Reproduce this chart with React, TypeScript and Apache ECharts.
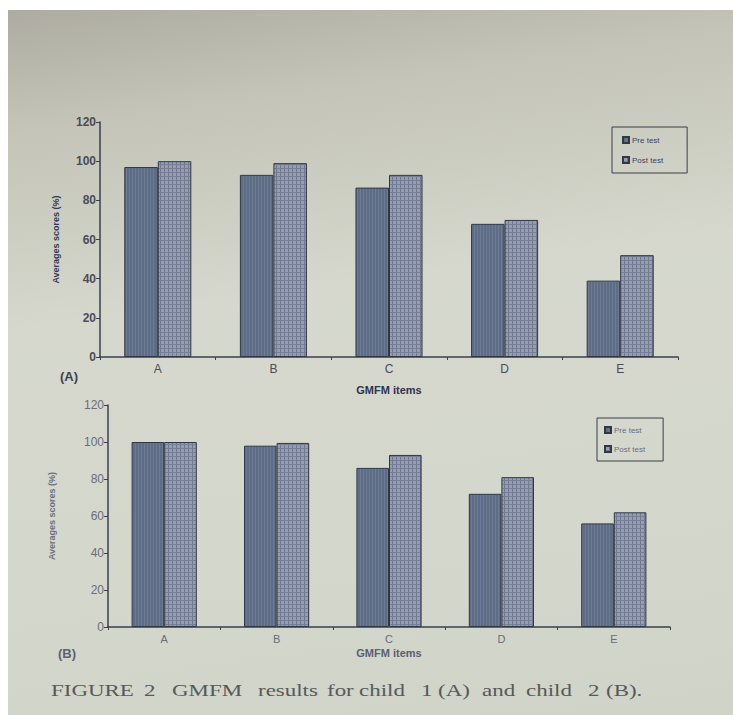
import React, { useEffect, useRef } from "react";
import * as echarts from "echarts";

const categories = ["A", "B", "C", "D", "E"];
const child1Pre = [97, 93, 86.5, 68, 39];
const child1Post = [100, 99, 93, 70, 52];
const child2Pre = [100, 98, 86, 72, 56];
const child2Post = [100, 99.5, 93, 81, 62];
const seriesNames = ["Pre test", "Post test"];
const yMin = 0;
const yMax = 120;
const yStep = 20;
const xAxisTitle = "GMFM items";
const yAxisTitle = "Averages scores (%)";
const panelLabels = ["(A)", "(B)"];
const captionWords: [string, number][] = [
  ["FIGURE", 51],
  ["2", 144],
  ["GMFM", 172],
  ["results", 258],
  ["for", 327],
  ["child", 359],
  ["1", 421],
  ["(A)", 438],
  ["and", 482],
  ["child", 526],
  ["2", 588],
  ["(B).", 606],
];

function makePattern(base: string, vLine: string, hLine: string | null, step: number) {
  const c = document.createElement("canvas");
  c.width = step;
  c.height = step;
  const ctx = c.getContext("2d")!;
  ctx.fillStyle = base;
  ctx.fillRect(0, 0, step, step);
  ctx.fillStyle = vLine;
  ctx.fillRect(0, 0, 1, step);
  if (hLine) {
    ctx.fillStyle = hLine;
    ctx.fillRect(0, 0, step, 1);
  }
  return { image: c.toDataURL(), repeat: "repeat", imageWidth: step, imageHeight: step };
}

export default function App() {
  const ref = useRef<HTMLDivElement>(null);
  useEffect(() => {
    if (!ref.current) return;
    const chart = echarts.init(ref.current, null, { renderer: "svg" });
    const prePattern = makePattern("#5e6d86", "#6c7b93", null, 3);
    const postPattern = makePattern("#979db0", "#707990", "#767f95", 4);
    const grids = [
      { left: 100, right: 55, top: 122, height: 235 },
      { left: 108, right: 63, top: 405, height: 222 },
    ];
    const xAxes = grids.map((_, i) => ({
      type: "category",
      gridIndex: i,
      data: categories,
      name: xAxisTitle,
      nameLocation: "middle",
      nameGap: i === 0 ? 27 : 20,
      nameTextStyle: {
        fontFamily: "Liberation Sans",
        fontWeight: "bold",
        fontSize: 11,
        color: i === 0 ? "#2c3352" : "#5a6070",
      },
      axisLine: { lineStyle: { color: "#39404c", width: 1.5 } },
      axisTick: { show: true, length: 3, lineStyle: { color: "#39404c" } },
      axisLabel: {
        fontFamily: "Liberation Sans",
        fontSize: i === 0 ? 12 : 11,
        color: i === 0 ? "#4a4d58" : "#6a6d78",
        margin: 6,
      },
    }));
    const yAxes = grids.map((_, i) => ({
      type: "value",
      gridIndex: i,
      min: yMin,
      max: yMax,
      interval: yStep,
      name: yAxisTitle,
      nameLocation: "middle",
      nameGap: i === 0 ? 40 : 52,
      nameTextStyle: {
        fontFamily: "Liberation Sans",
        fontWeight: "bold",
        fontSize: 9,
        color: i === 0 ? "#2f3a5a" : "#6a7080",
      },
      splitLine: { show: false },
      axisLine: { show: true, lineStyle: { color: "#39404c", width: 1.5 } },
      axisTick: { show: true, length: 4, lineStyle: { color: "#39404c" } },
      axisLabel: {
        fontFamily: "Liberation Sans",
        fontSize: 12,
        fontWeight: i === 0 ? "bold" : "normal",
        color: i === 0 ? "#4a4d58" : "#6a6d78",
        margin: 4,
      },
    }));
    const barStyle = (pattern: any) => ({
      color: pattern,
      borderColor: "#2e3847",
      borderWidth: 1,
    });
    const seriesData = [
      [child1Pre, child1Post],
      [child2Pre, child2Post],
    ];
    const series: any[] = [];
    seriesData.forEach((pair, gi) => {
      pair.forEach((vals, si) => {
        series.push({
          type: "bar",
          name: seriesNames[si],
          xAxisIndex: gi,
          yAxisIndex: gi,
          data: vals,
          barWidth: "29%",
          barGap: "0%",
          itemStyle: barStyle(si === 0 ? prePattern : postPattern),
        });
      });
    });
    const legendBase = {
      orient: "vertical",
      data: seriesNames,
      itemWidth: 6,
      itemHeight: 6,
      itemGap: 12,
      borderColor: "#3a3f48",
      borderWidth: 1,
      icon: "rect",
      textStyle: { fontFamily: "Liberation Sans", fontSize: 8, color: "#3e4458", padding: [0, 0, 0, -2] },
    };
    const graphics: any[] = [];
    panelLabels.forEach((t, i) => {
      graphics.push({
        type: "text",
        left: i === 0 ? 60 : 58,
        top: i === 0 ? 370 : 647,
        style: {
          text: t,
          fontFamily: "Liberation Sans",
          fontSize: 13,
          fontWeight: "bold",
          fill: i === 0 ? "#3c4050" : "#5c6070",
        },
      });
    });
    captionWords.forEach(([w, x]) => {
      graphics.push({
        type: "text",
        x,
        y: 690,
        scaleX: 1.35,
        style: {
          text: w,
          fontFamily: "Liberation Serif",
          fontSize: 17,
          fill: "#555a5a",
          verticalAlign: "middle",
        },
      });
    });
    chart.setOption({
      animation: false,
      backgroundColor: "transparent",
      grid: grids,
      xAxis: xAxes,
      yAxis: yAxes,
      legend: [
        { ...legendBase, left: 612, top: 127, padding: [9, 24, 9, 10] },
        { ...legendBase, left: 597, top: 418, padding: [8, 18, 8, 7], itemGap: 11, textStyle: { ...legendBase.textStyle, color: "#6a6e7c" } },
      ],
      series,
      graphic: { elements: graphics },
    });
    return () => chart.dispose();
  }, []);
  return (
    <div style={{ position: "fixed", left: 0, top: 0, width: 733, height: 715, background: "#ffffff" }}>
      <div
        style={{
          position: "absolute",
          left: 8,
          top: 10,
          right: 0,
          bottom: 0,
          background:
            "linear-gradient(172deg, #aeaca2 0%, #c4c4b8 15%, #d6d8cd 40%, #d4d7cc 75%, #cfd3c8 100%)",
        }}
      />
      <div ref={ref} style={{ position: "absolute", left: 0, top: 0, width: 733, height: 715 }} />
    </div>
  );
}
